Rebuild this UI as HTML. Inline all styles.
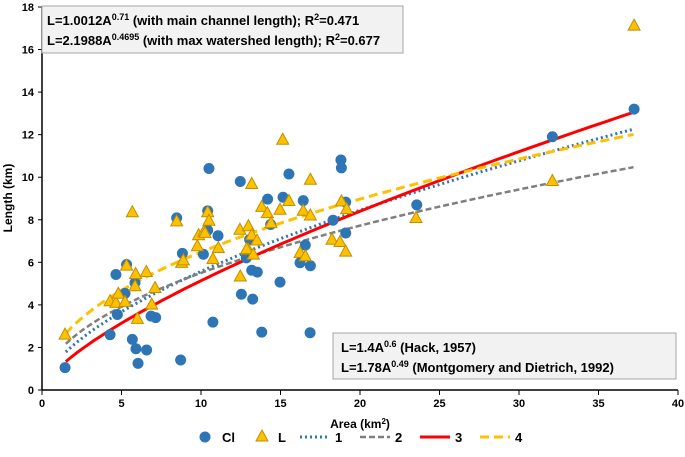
<!DOCTYPE html>
<html><head><meta charset="utf-8"><style>
body{margin:0;background:#fff;font-family:"Liberation Sans",Arial,sans-serif;}
svg text{font-family:"Liberation Sans",Arial,sans-serif;font-weight:bold;}
</style></head><body>
<svg id="chart" width="685" height="452" xmlns="http://www.w3.org/2000/svg">
<g id="axes"></g>
<g id="curves"></g>
<g id="pts"></g>
<g>
<rect x="42" y="6" width="361" height="47" fill="#f2f2f2" stroke="#a6a6a6"/>
<text x="47" y="25" font-size="13">L=1.0012A<tspan font-size="9" dy="-5">0.71</tspan><tspan dy="5"> (with main channel length); R</tspan><tspan font-size="9" dy="-5">2</tspan><tspan dy="5">=0.471</tspan></text>
<text x="47" y="45" font-size="13">L=2.1988A<tspan font-size="9" dy="-5">0.4695</tspan><tspan dy="5"> (with max watershed length); R</tspan><tspan font-size="9" dy="-5">2</tspan><tspan dy="5">=0.677</tspan></text>
</g>
<g>
<rect x="333" y="333" width="343" height="46" fill="#f2f2f2" stroke="#a6a6a6"/>
<text x="341" y="352" font-size="13">L=1.4A<tspan font-size="9" dy="-5">0.6</tspan><tspan dy="5"> (Hack, 1957)</tspan></text>
<text x="341" y="372" font-size="13">L=1.78A<tspan font-size="9" dy="-5">0.49</tspan><tspan dy="5"> (Montgomery and Dietrich, 1992)</tspan></text>
</g>
<text x="360" y="428" font-size="12" text-anchor="middle">Area (km<tspan font-size="8" dy="-4">2</tspan><tspan dy="4">)</tspan></text>
<text transform="translate(12,198) rotate(-90)" font-size="12" text-anchor="middle">Length (km)</text>
<g>
<g><circle cx="205" cy="437" r="5.5" fill="#2e75b6"/><text x="222" y="442" font-size="13">Cl</text></g>
<g><polygon points="262,430 268,441 256,441" fill="#ffc000" stroke="#bf9000"/><text x="278" y="442" font-size="13">L</text></g>
<g><line x1="300" y1="437" x2="330" y2="437" stroke="#2e75b6" stroke-width="3" stroke-dasharray="2,3"/><text x="335" y="442" font-size="13">1</text></g>
<g><line x1="360" y1="437" x2="390" y2="437" stroke="#7f7f7f" stroke-width="2.5" stroke-dasharray="6,3"/><text x="395" y="442" font-size="13">2</text></g>
<g><line x1="420" y1="437" x2="450" y2="437" stroke="#ff0000" stroke-width="3"/><text x="455" y="442" font-size="13">3</text></g>
<g><line x1="480" y1="437" x2="510" y2="437" stroke="#ffc000" stroke-width="3" stroke-dasharray="9,5"/><text x="515" y="442" font-size="13">4</text></g>
</g>
</svg>
<script>
const xTicks=[0,5,10,15,20,25,30,35,40];
const yTicks=[0,2,4,6,8,10,12,14,16,18];
const clArea=[1.45,4.28,4.65,4.74,5.32,5.22,5.85,5.68,5.91,6.04,6.58,6.86,7.15,8.72,8.47,8.83,10.5,10.42,10.42,10.15,11.07,10.75,12.47,12.54,14.19,15.16,15.53,16.43,18.8,18.83,19.1,18.3,19.1,16.56,16.23,16.88,14.38,13.06,12.85,13.19,13.54,14.97,13.25,13.82,16.86,23.57,32.1,37.24];
const clLen=[1.05,2.6,5.43,3.55,5.9,4.54,5.04,2.38,1.94,1.25,1.88,3.47,3.4,1.41,8.09,6.42,10.41,8.42,7.51,6.38,7.25,3.19,9.8,4.5,8.97,9.06,10.15,8.9,10.81,10.44,8.83,7.98,7.38,6.81,5.98,5.84,7.78,7.07,6.21,5.63,5.54,5.07,4.27,2.72,2.69,8.7,11.9,13.2];
const lArea=[1.45,4.28,4.65,4.8,5.22,5.32,5.68,5.89,5.85,6.0,6.56,7.11,6.9,8.47,8.78,8.89,9.77,9.85,10.19,10.42,10.5,10.75,11.09,12.47,12.45,12.98,12.98,13.19,15.14,16.88,13.82,14.17,14.97,15.53,16.43,16.88,14.4,13.19,13.52,12.87,13.29,10.25,16.23,16.56,18.24,18.74,19.1,18.83,19.16,23.52,32.1,37.24];
const lLen=[2.58,4.15,4.07,4.5,4.12,5.82,8.33,5.43,4.85,3.32,5.52,4.77,3.99,7.9,5.95,6.07,6.73,7.25,7.43,8.33,7.93,6.13,6.65,5.31,7.51,7.67,6.57,9.66,11.74,9.86,8.58,8.29,8.45,8.86,8.4,8.18,7.82,7.25,7.0,6.6,6.34,7.36,6.42,6.26,7.04,6.93,6.48,8.84,8.48,8.06,9.8,17.1];
const fitCoef=[1.4,1.78,1.0012,2.1988];
const fitExp=[0.6,0.49,0.71,0.4695];
const fitName=['fit-1-hack','fit-2-montgomery','fit-3-main-channel','fit-4-max-watershed'];
const fitRange=[1.5,37.2];
const NS='http://www.w3.org/2000/svg';
const X0=42,X1=678,Y0=390,Y1=7;
function sx(a){return X0+(a-0)/(40-0)*(X1-X0);}
function sy(l){return Y0-(l-0)/(18-0)*(Y0-Y1);}
function mk(t,at,p){const e=document.createElementNS(NS,t);for(const k in at)e.setAttribute(k,at[k]);p.appendChild(e);return e;}
const ax=document.getElementById('axes');
let e=mk('line',{x1:X0,y1:Y1,x2:X0,y2:Y0,stroke:'#000','stroke-width':1.5},ax);


e=mk('line',{x1:X0,y1:Y0,x2:X1,y2:Y0,stroke:'#000','stroke-width':1.5},ax);


xTicks.forEach(v=>{
 mk('line',{x1:sx(v),y1:Y0,x2:sx(v),y2:Y0+5,stroke:'#000'},ax);
 const t=mk('text',{x:sx(v),y:Y0+17,'font-size':11,'text-anchor':'middle'},ax);t.textContent=v;
 
 
});
yTicks.forEach(v=>{
 mk('line',{x1:X0-4,y1:sy(v),x2:X0,y2:sy(v),stroke:'#000'},ax);
 const t=mk('text',{x:X0-8,y:sy(v)+4,'font-size':11,'text-anchor':'end'},ax);t.textContent=v;
 
 
});
const styles=[{stroke:'#2e75b6','stroke-width':3,'stroke-dasharray':'2,3'},{stroke:'#7f7f7f','stroke-width':2.5,'stroke-dasharray':'6,3'},{stroke:'#ff0000','stroke-width':3},{stroke:'#ffc000','stroke-width':3,'stroke-dasharray':'9,5'}];
const cg=document.getElementById('curves');
fitCoef.forEach((c,i)=>{
 let d='';
 for(let k=0;k<=100;k++){const a=fitRange[0]+(fitRange[1]-fitRange[0])*k/100;d+=(k?'L':'M')+sx(a).toFixed(1)+','+sy(c*Math.pow(a,fitExp[i])).toFixed(1);}
 const p=mk('path',Object.assign({d:d,fill:'none'},styles[i]),cg);
 
 
});
const pg=document.getElementById('pts');
clArea.forEach((a,i)=>{
 const c=mk('circle',{cx:sx(a),cy:sy(clLen[i]),r:5.5,fill:'#2e75b6'},pg);
 
 
});
lArea.forEach((a,i)=>{
 const x=sx(a),y=sy(lLen[i]);
 const t=mk('polygon',{points:`${x},${y-7} ${x+6},${y+4} ${x-6},${y+4}`,fill:'#ffc000',stroke:'#bf9000','stroke-width':1},pg);
 
 
});
</script>
</body></html>
